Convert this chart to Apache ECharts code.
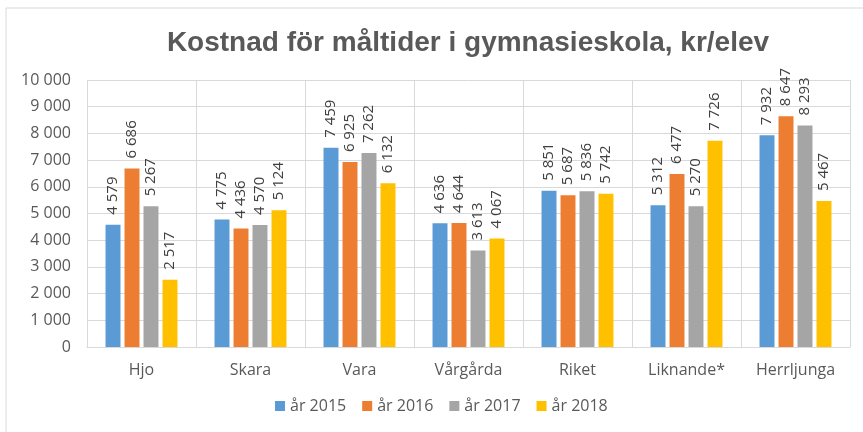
<!DOCTYPE html>
<html>
<head>
<meta charset="utf-8">
<script src="https://cdn.jsdelivr.net/npm/echarts@6/dist/echarts.min.js"></script>
<style>
  html, body { margin: 0; padding: 0; background: #fff; }
  #chart { width: 863px; height: 432px; }
</style>
</head>
<body>
<div id="chart"></div>
<script>
var categories = ["Hjo", "Skara", "Vara", "Vårgårda", "Riket", "Liknande*", "Herrljunga"];
var years = ["år 2015", "år 2016", "år 2017", "år 2018"];
var v2015 = [4579, 4775, 7459, 4636, 5851, 5312, 7932];
var v2016 = [6686, 4436, 6925, 4644, 5687, 6477, 8647];
var v2017 = [5267, 4570, 7262, 3613, 5836, 5270, 8293];
var v2018 = [2517, 5124, 6132, 4067, 5742, 7726, 5467];
var colors = ["#5B9BD5", "#ED7D31", "#A5A5A5", "#FFC000"];

// "4 579" style with space as thousands separator
function fmt(n) {
  return String(n).replace(/\B(?=(\d{3})+(?!\d))/g, " ");
}

var font = "'Open Sans', 'Noto Sans', sans-serif";
var allValues = [v2015, v2016, v2017, v2018];

var chart = echarts.init(document.getElementById("chart"));
var series = [];
for (var i = 0; i < years.length; i++) {
  series.push({
    name: years[i],
    type: "bar",
    data: allValues[i],
    barGap: "27%",
    barCategoryGap: "34%",
    itemStyle: { color: colors[i] },
    label: {
      show: true,
      position: "top",
      rotate: 90,
      align: "left",
      verticalAlign: "middle",
      distance: 10,
      color: "#404040",
      fontSize: 15,
      fontFamily: font,
      formatter: function (p) { return fmt(p.value); }
    }
  });
}

chart.setOption({
  backgroundColor: "#fff",
  animation: false,
  color: colors,
  title: {
    text: "Kostnad för måltider i gymnasieskola, kr/elev",
    left: 463,
    textAlign: "center",
    top: 24,
    textStyle: { color: "#595959", fontSize: 28, fontWeight: "bold", fontFamily: "Arial, 'Liberation Sans', sans-serif" }
  },
  legend: {
    bottom: 13,
    left: 270,
    itemWidth: 10,
    itemHeight: 10,
    itemGap: 16,
    icon: "rect",
    textStyle: { color: "#595959", fontSize: 16, fontFamily: font },
    data: years
  },
  grid: { left: 87, right: 13, top: 80, bottom: 85 },
  xAxis: {
    type: "category",
    data: categories,
    axisLine: { lineStyle: { color: "#D9D9D9" } },
    axisTick: { show: false },
    splitLine: { show: true, lineStyle: { color: "#D9D9D9" } },
    axisLabel: { color: "#595959", fontSize: 16, fontFamily: font, margin: 15 }
  },
  yAxis: {
    type: "value",
    min: 0,
    max: 10000,
    interval: 1000,
    axisLine: { show: false },
    axisTick: { show: false },
    splitLine: { lineStyle: { color: "#D9D9D9" } },
    axisLabel: {
      color: "#595959", fontSize: 16, fontFamily: font, margin: 16,
      formatter: function (v) { return fmt(v); }
    }
  },
  graphic: [{
    type: "rect",
    shape: { x: 6, y: 8, width: 900, height: 460 },
    style: { fill: null, stroke: "#D9D9D9", lineWidth: 1 },
    silent: true
  }],
  series: series
});
</script>
</body>
</html>
